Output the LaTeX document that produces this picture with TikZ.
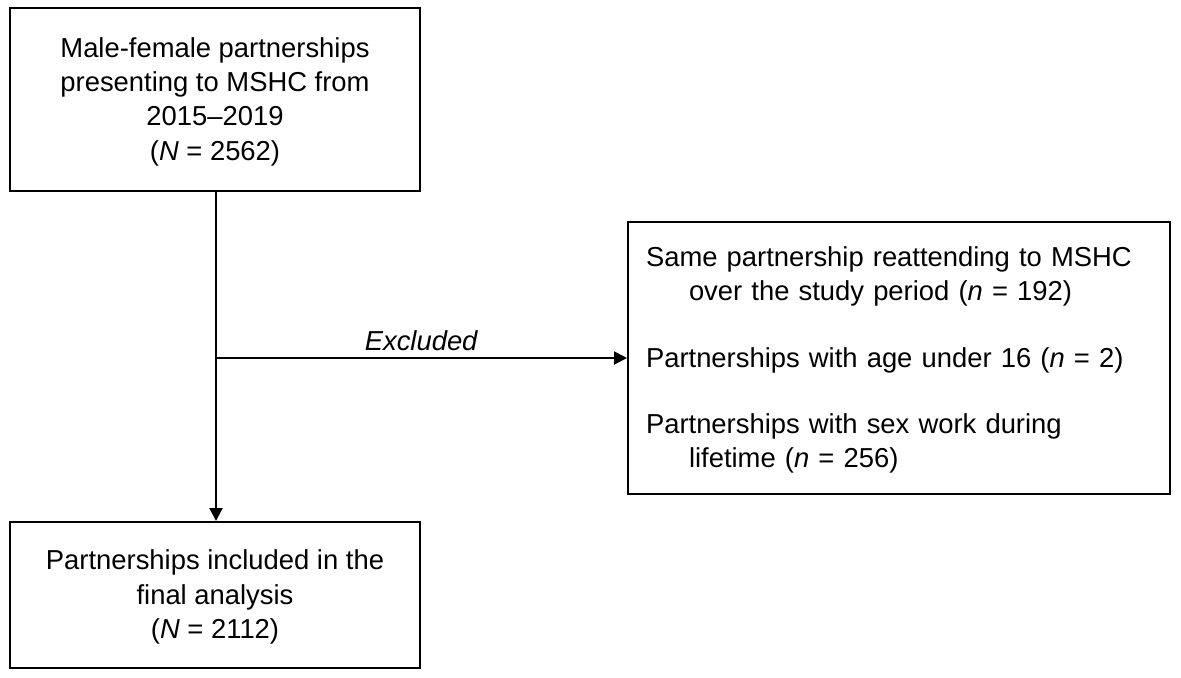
\documentclass[tikz,border=0pt]{standalone}
\usepackage{fontspec}
\setmainfont{Liberation Sans}
\usetikzlibrary{arrows.meta, positioning}
\newcommand{\padtop}{\rule{0pt}{12pt}}

\begin{document}
\begin{tikzpicture}[x=0.5pt,y=-0.5pt,>={Triangle[length=6.5pt,width=6.5pt]},line width=1pt,
  every node/.style={font=\fontsize{13.7}{17.2}\selectfont},
  box/.style={draw, rectangle, inner sep=0pt, align=center}]
\useasboundingbox (0,0) rectangle (1181,677);

% define the boxes of the flow
  \node[box, minimum width=205pt, minimum height=91.5pt] (total) at (215,99.5)
{\padtop Male-female partnerships\\presenting to MSHC from\\2015--2019\\(\textit{N} = 2562)};
  \node[box, minimum width=205pt, minimum height=73pt] (final) at (215,595)
{\padtop Partnerships included in the\\final analysis\\(\textit{N} = 2112)};
  \node[box, align=left, text width=253pt, inner xsep=9pt, minimum height=136pt] (excl) at (899,358)
{\padtop Same partnership reattending to MSHC\\\hspace*{21.5pt}over the study period (\textit{n} = 192)\\[16pt]
Partnerships with age under 16 (\textit{n} = 2)\\[16pt]
Partnerships with sex work during\\\hspace*{21.5pt}lifetime (\textit{n} = 256)};

  \coordinate (split) at (216,358);

% define the links
  \path[->] (total.south -| split) edge (final.north -| split);
  \draw[->] (split) -- node[above=0pt] {\textit{Excluded}} (excl.west |- split);

\end{tikzpicture}
\end{document}
